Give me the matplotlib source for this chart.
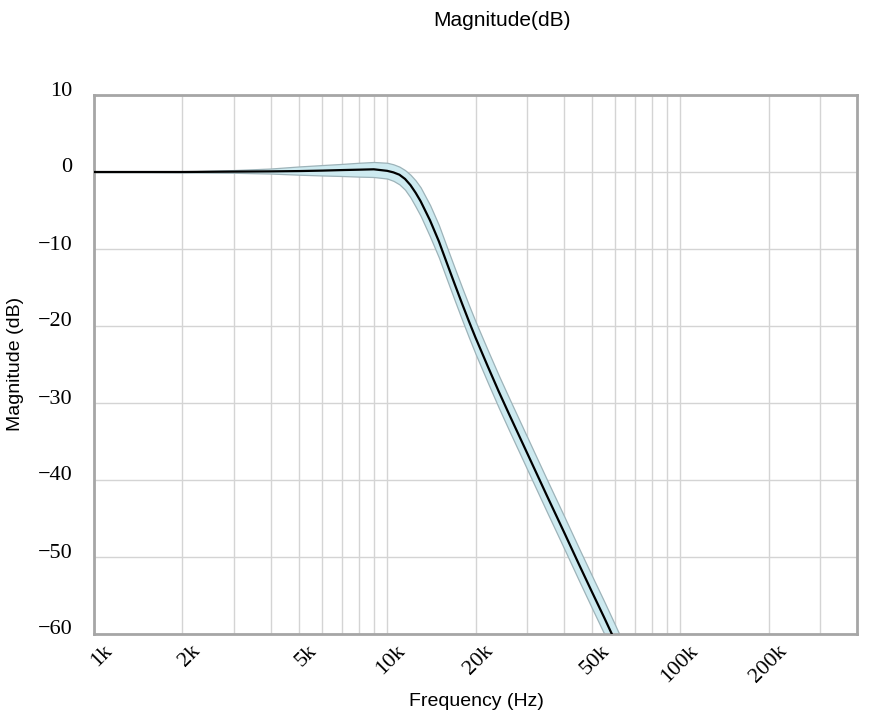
import matplotlib
matplotlib.use("Agg")
import matplotlib.pyplot as plt
from matplotlib.transforms import ScaledTranslation
from matplotlib.ticker import NullFormatter

# ---- data ----
freq_hz = [1000, 1500, 2000, 3000, 4000, 5000, 6000, 7000, 8000, 9000,
           10000, 10500, 11000, 11500, 12000, 12500, 13000, 14000, 15000,
           16000, 17000, 18000, 19000, 20000, 22000, 24000, 26000, 30000,
           35000, 40000, 45000, 50000, 55000, 60000, 65000]
magnitude_db = [0.0, 0.0, 0.0, 0.05, 0.08, 0.12, 0.18, 0.25, 0.30, 0.35,
                0.15, -0.05, -0.35, -0.9, -1.7, -2.7, -3.8, -6.3, -9.0,
                -11.9, -14.6, -17.1, -19.4, -21.5, -25.2, -28.5, -31.4, -36.5,
                -42.0, -46.7, -50.9, -54.6, -57.9, -61.0, -63.9]
upper_db = [0.0, 0.02, 0.06, 0.25, 0.45, 0.72, 0.90, 1.05, 1.20, 1.30,
            1.20, 1.00, 0.70, 0.25, -0.35, -1.1, -2.0, -4.3, -6.9,
            -9.8, -12.5, -15.0, -17.3, -19.4, -23.1, -26.4, -29.3, -34.4,
            -39.9, -44.6, -48.8, -52.5, -55.8, -58.9, -61.8]
lower_db = [0.0, -0.02, -0.05, -0.10, -0.20, -0.35, -0.45, -0.52, -0.60, -0.65,
            -0.85, -1.15, -1.6, -2.3, -3.3, -4.5, -5.7, -8.4, -11.1,
            -14.0, -16.7, -19.2, -21.5, -23.6, -27.3, -30.6, -33.5, -38.6,
            -44.1, -48.8, -53.0, -56.7, -60.0, -63.1, -66.0]

x_tick_values = [1000, 2000, 5000, 10000, 20000, 50000, 100000, 200000]
x_tick_labels = ["1k", "2k", "5k", "10k", "20k", "50k", "100k", "200k"]
y_tick_values = [10, 0, -10, -20, -30, -40, -50, -60]
y_tick_labels = ["10", "0", "\u221210", "\u221220", "\u221230", "\u221240", "\u221250", "\u221260"]

W, H = 872, 721
fig = plt.figure(figsize=(W / 100, H / 100), dpi=100)
ax = fig.add_axes([94 / W, (H - 634) / H, (857 - 94) / W, (634 - 95) / H])

ax.fill_between(freq_hz, lower_db, upper_db, facecolor="#cdeaf0",
                edgecolor="#9db3b9", linewidth=0.9, zorder=2)
ax.plot(freq_hz, magnitude_db, color="black", linewidth=1.6, zorder=3)

ax.set_xscale("log")
ax.set_xlim(1000, 400000)
ax.set_ylim(-60, 10)

minor = [m * 10 ** e for e in (3, 4, 5) for m in range(2, 10)
         if m * 10 ** e < 400000 and m * 10 ** e not in x_tick_values]
ax.set_xticks(minor, minor=True)
ax.xaxis.set_minor_formatter(NullFormatter())
ax.set_xticks(x_tick_values)
ax.set_xticklabels(x_tick_labels, rotation=45, ha="right", va="top",
                   fontsize=16, fontfamily="Liberation Serif")
ax.set_yticks(y_tick_values)
ax.set_yticklabels(y_tick_labels, fontsize=16, fontfamily="Liberation Serif")

ax.set_axisbelow(True)
ax.grid(which="both", color="#d4d4d4", linewidth=1.0)
ax.tick_params(which="both", length=0)
ax.tick_params(axis="y", pad=15.5)
ax.tick_params(axis="x", pad=5.5)

for s in ax.spines.values():
    s.set_color("#a6a6a6")
    s.set_linewidth(2.0)

dy = ScaledTranslation(0, 6.5 / 100, fig.dpi_scale_trans)
for lbl in ax.get_yticklabels():
    lbl.set_transform(lbl.get_transform() + dy)

dx = ScaledTranslation(22 / 100, 0, fig.dpi_scale_trans)
for lbl in ax.get_xticklabels():
    lbl.set_transform(lbl.get_transform() + dx)

fig.text(502 / W, 1 - 20 / H, "Magnitude(dB)", ha="center", va="center",
         fontsize=15, family="Liberation Sans")
fig.text(476 / W, 1 - 701 / H, "Frequency (Hz)", ha="center", va="center",
         fontsize=14, family="Liberation Sans")
fig.text(15 / W, 1 - 364 / H, "Magnitude (dB)", ha="center", va="center",
         rotation=90, fontsize=14, family="Liberation Sans")

fig.savefig("out.png", dpi=100)
